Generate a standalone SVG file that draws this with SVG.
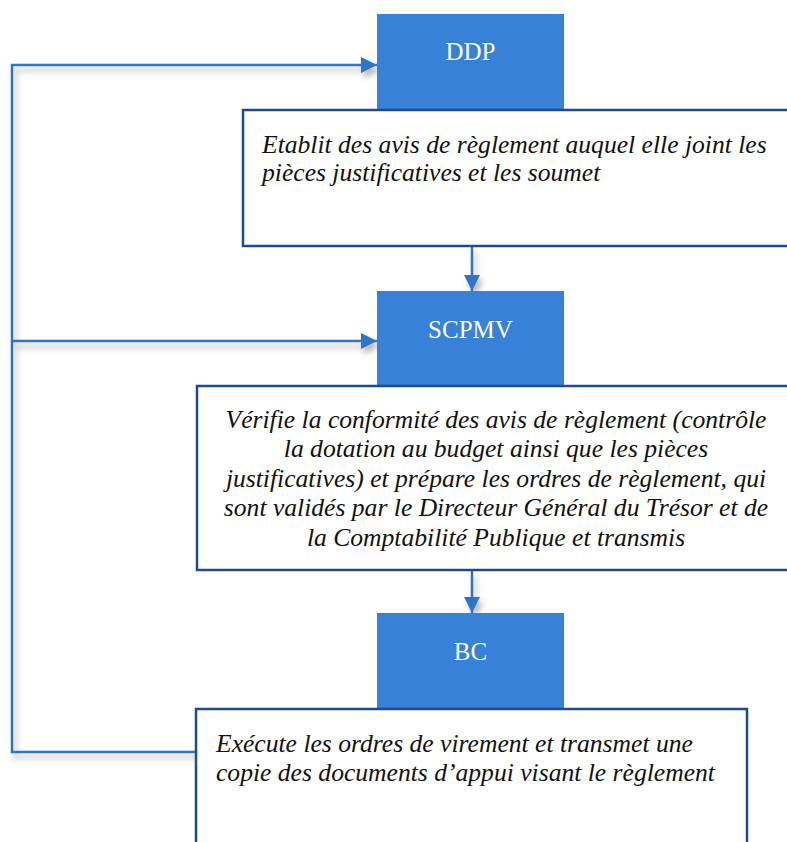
<svg xmlns="http://www.w3.org/2000/svg" width="787" height="842" viewBox="0 0 787 842">
<style>
.lbl{font-family:"Liberation Serif","Times New Roman",serif;font-size:25px;fill:#ffffff;text-anchor:middle}
.txt{font-family:"Liberation Serif","Times New Roman",serif;font-size:25.6px;font-style:italic;fill:#111111}
.blue{fill:#3781D9}
.card{fill:#ffffff;stroke:#1E4B8E;stroke-width:2.5}
.conn{fill:none;stroke:#2F74C8;stroke-width:2.5}
</style>
<defs>
<marker id="ah" markerUnits="userSpaceOnUse" markerWidth="16" markerHeight="16" viewBox="0 0 16 16" refX="16" refY="8" orient="auto">
<path d="M0,0 L16,8 L0,16 Z" fill="#2F74C8"/>
</marker>
<filter id="sh" x="-10%" y="-10%" width="130%" height="130%">
<feDropShadow dx="3" dy="5" stdDeviation="3" flood-color="#000000" flood-opacity="0.3"/>
</filter>
</defs>
<g id="connectors" filter="url(#sh)">
<path class="conn" d="M196,752 H12 V65 H377" marker-end="url(#ah)"/>
<path class="conn" d="M12,341 H377" marker-end="url(#ah)"/>
<path class="conn" d="M472,247 V291" marker-end="url(#ah)"/>
<path class="conn" d="M472,571 V613" marker-end="url(#ah)"/>
</g>
<g id="ddp">
<rect class="blue" x="377" y="14" width="187" height="96"/>
<text class="lbl" x="470.5" y="60">DDP</text>
</g>
<g id="ddp-desc">
<rect class="card" x="243" y="110" width="550" height="136"/>
<text class="txt" x="262" y="153">Etablit des avis de règlement auquel elle joint les</text>
<text class="txt" x="262" y="181">pièces justificatives et les soumet</text>
</g>
<g id="scpmv">
<rect class="blue" x="377" y="291" width="187" height="96"/>
<text class="lbl" x="470.5" y="338">SCPMV</text>
</g>
<g id="scpmv-desc">
<rect class="card" x="197" y="386" width="596" height="184"/>
<text class="txt" x="496" y="428" text-anchor="middle">Vérifie la conformité des avis de règlement (contrôle</text>
<text class="txt" x="496" y="457" text-anchor="middle">la dotation au budget ainsi que les pièces</text>
<text class="txt" x="496" y="487" text-anchor="middle">justificatives) et prépare les ordres de règlement, qui</text>
<text class="txt" x="496" y="516" text-anchor="middle">sont validés par le Directeur Général du Trésor et de</text>
<text class="txt" x="496" y="546" text-anchor="middle">la Comptabilité Publique et transmis</text>
</g>
<g id="bc">
<rect class="blue" x="377" y="613" width="187" height="96"/>
<text class="lbl" x="470.5" y="660">BC</text>
</g>
<g id="bc-desc">
<rect class="card" x="196" y="709" width="551" height="150"/>
<text class="txt" x="216" y="752">Exécute les ordres de virement et transmet une</text>
<text class="txt" x="216" y="781">copie des documents d’appui visant le règlement</text>
</g>
</svg>
